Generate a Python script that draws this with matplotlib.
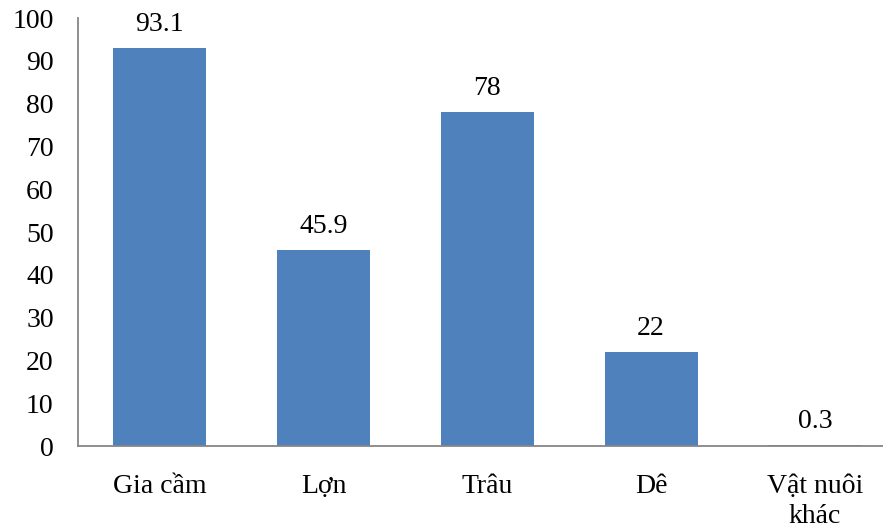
import matplotlib
matplotlib.use("Agg")
import matplotlib.pyplot as plt

categories = ["Gia cầm", "Lợn", "Trâu", "Dê", "Vật nuôi\nkhác"]
values = [93.1, 45.9, 78, 22, 0.3]
labels = ["93.1", "45.9", "78", "22", "0.3"]
yticks = [0, 10, 20, 30, 40, 50, 60, 70, 80, 90, 100]

plt.rcParams['font.family'] = ['Liberation Serif', 'DejaVu Serif']

fig = plt.figure(figsize=(8.83, 5.28), dpi=100)
W, H = 883, 528
left, right = 78, 78 + 5 * 163.75
top, bottom = 18, 446
ax = fig.add_axes([left / W, 1 - bottom / H, (right - left) / W, (bottom - top) / H])

x = list(range(len(categories)))
ax.bar(x, values, width=93 / 163.75, color="#4F81BD")
ax.set_xlim(-0.5, 4.5)
ax.set_ylim(0, 100)
ax.set_yticks(yticks)
ax.set_yticklabels([str(t) for t in yticks], fontsize=20)
ax.set_xticks(x)
ax.set_xticklabels(categories, fontsize=20, linespacing=1.3, va="top")
ax.tick_params(axis="y", length=0, pad=17.5)
ax.tick_params(axis="x", length=0, pad=20)
for s in ["top", "right"]:
    ax.spines[s].set_visible(False)
for s in ["left", "bottom"]:
    ax.spines[s].set_color("#868686")
    ax.spines[s].set_linewidth(1.3)

for xi, v, lab in zip(x, values, labels):
    ax.annotate(lab, (xi, v), xytext=(0, 12), textcoords="offset points",
                ha="center", va="baseline", fontsize=20)

fig.savefig("out.png", dpi=100)
